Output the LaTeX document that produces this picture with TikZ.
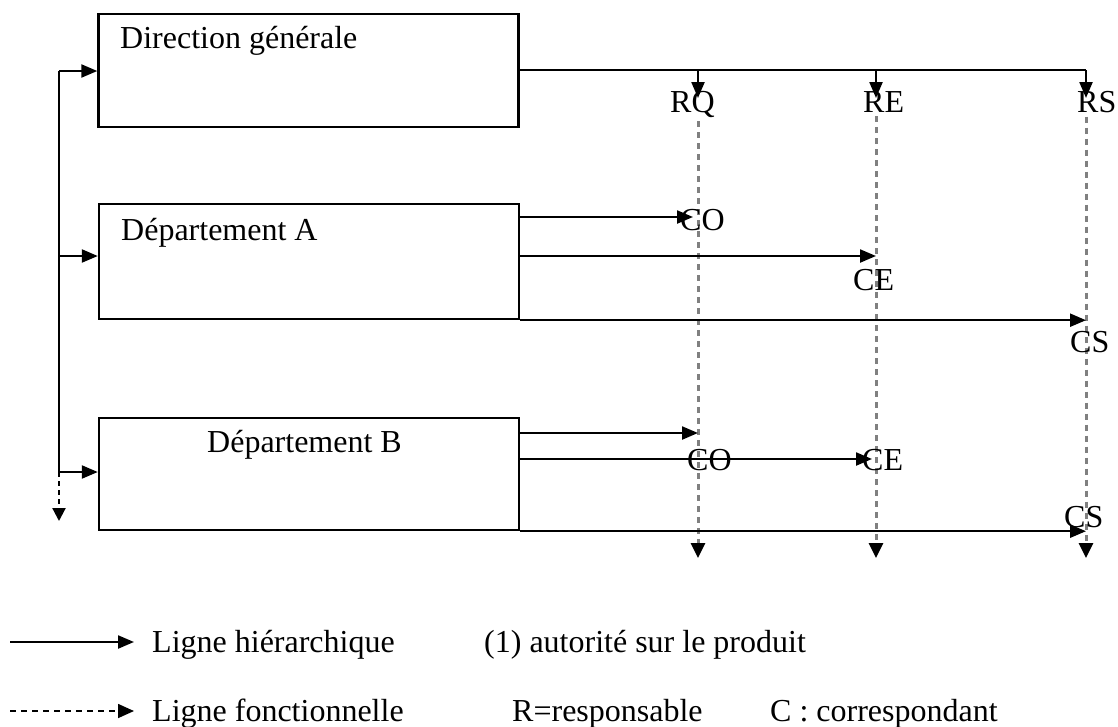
\documentclass[tikz,border=0pt]{standalone}
\usepackage{fontspec}
\setmainfont{Liberation Serif}
\usetikzlibrary{arrows.meta,calc}
\begin{document}
\begin{tikzpicture}[x=1pt,y=-1pt,
  box/.style={draw,line width=2.4pt,minimum width=420pt,inner sep=0pt},
  boxtext/.style={font=\fontsize{32}{36}\selectfont,inner sep=0pt,anchor=base west},
  tag/.style={font=\fontsize{32}{36}\selectfont,inner sep=0pt,anchor=base west},
  legtext/.style={font=\fontsize{32}{36}\selectfont,inner sep=0pt,anchor=base west},
  hline/.style={line width=2.2pt},
  harrow/.style={hline,-{Triangle[length=16pt,width=13pt]}},
  farrow/.style={draw=black!50,line width=3pt,dash pattern=on 6pt off 5pt,
    -{Triangle[length=15pt,width=14pt,color=black,fill=black]}},
  legfarrow/.style={line width=1.6pt,dash pattern=on 6pt off 5pt,
    -{Triangle[length=16pt,width=14pt,fill=black]}}
]
\useasboundingbox (0,0) rectangle (1118,726);

% --- boxes -------------------------------------------------------------
\node[box,minimum height=113pt] (dg) at (308.5,70.5) {};
\node[box,minimum height=115pt] (da) at (309,261.5) {};
\node[box,minimum height=112pt] (db) at (309,474) {};
\node[boxtext] (dgt) at (120,48) {Direction générale};
\node[boxtext] (dat) at (121,240) {Département A};
\node[boxtext] (dbt) at (207,452) {Département B};

% --- left hierarchical bus --------------------------------------------
\coordinate (busT) at (59,71);
\coordinate (busA) at (59,256);
\coordinate (busB) at (59,472);
\coordinate (busE) at (59,521);
\draw[hline] (busT) -- (busB);
\draw[harrow] (busT) -- (busT -| dg.west);
\draw[harrow] (busA) -- (busA -| da.west);
\draw[harrow] (busB) -- (busB -| db.west);
\draw[hline,dash pattern=on 5pt off 4pt,-{Triangle[length=13pt,width=13pt]}] (busB) -- (busE);

% --- responsible labels under the top line ----------------------------
\node[tag] (rq) at (670,112) {RQ};
\node[tag] (re) at (863,112) {RE};
\node[tag] (rs) at (1077,112) {RS};

\coordinate (tQ) at (698,70);
\coordinate (tE) at (876,70);
\coordinate (tS) at (1086,70);
\draw[hline] (dg.east |- tQ) -- (tS);
\draw[harrow] (tQ) -- ++(0,28);
\draw[harrow] (tE) -- ++(0,28);
\draw[harrow] (tS) -- ++(0,28);

% --- functional (dashed) columns --------------------------------------
\coordinate (bQ) at (698,558);
\coordinate (bE) at (876,558);
\coordinate (bS) at (1086,558);
\draw[farrow] ($(rq.south -| tQ)+(0,4)$) -- (bQ);
\draw[farrow] ($(re.south -| tE)+(0,4)$) -- (bE);
\draw[farrow] ($(rs.south -| tS)+(0,4)$) -- (bS);

% --- correspondents of Département A ----------------------------------
\node[tag] (coa) at (680,230) {CO};
\node[tag] (cea) at (853,290) {CE};
\node[tag] (csa) at (1070,352) {CS};
\coordinate (a1) at (519,217);
\coordinate (a2) at (519,256);
\draw[harrow] (a1) -- (a1 -| 693,0);
\draw[harrow] (a2) -- (a2 -| tE);
\draw[harrow] (da.south east) -- (da.south east -| tS);

% --- correspondents of Département B ----------------------------------
\node[tag] (cob) at (687,470) {CO};
\node[tag] (ceb) at (862,470) {CE};
\node[tag] (csb) at (1064,527) {CS};
\coordinate (b1) at (519,433);
\coordinate (b2) at (519,459);
\draw[harrow] (b1) -- (b1 -| tQ);
\draw[harrow] (b2) -- (b2 -| 872,0);
\draw[harrow] (db.south east) -- (db.south east -| tS);

% --- legend -------------------------------------------------------------
\coordinate (l1s) at (10,642);
\coordinate (l1e) at (134,642);
\coordinate (l2s) at (10,711);
\coordinate (l2e) at (134,711);
\draw[harrow] (l1s) -- (l1e);
\draw[legfarrow] (l2s) -- (l2e);
\node[legtext] (lh) at (152,652) {Ligne hiérarchique};
\node[legtext] (la) at (484,652) {(1) autorité sur le produit};
\node[legtext] (lf) at (152,721) {Ligne fonctionnelle};
\node[legtext] (lr) at (512,721) {R=responsable};
\node[legtext] (lc) at (770,721) {C : correspondant};
\end{tikzpicture}
\end{document}
